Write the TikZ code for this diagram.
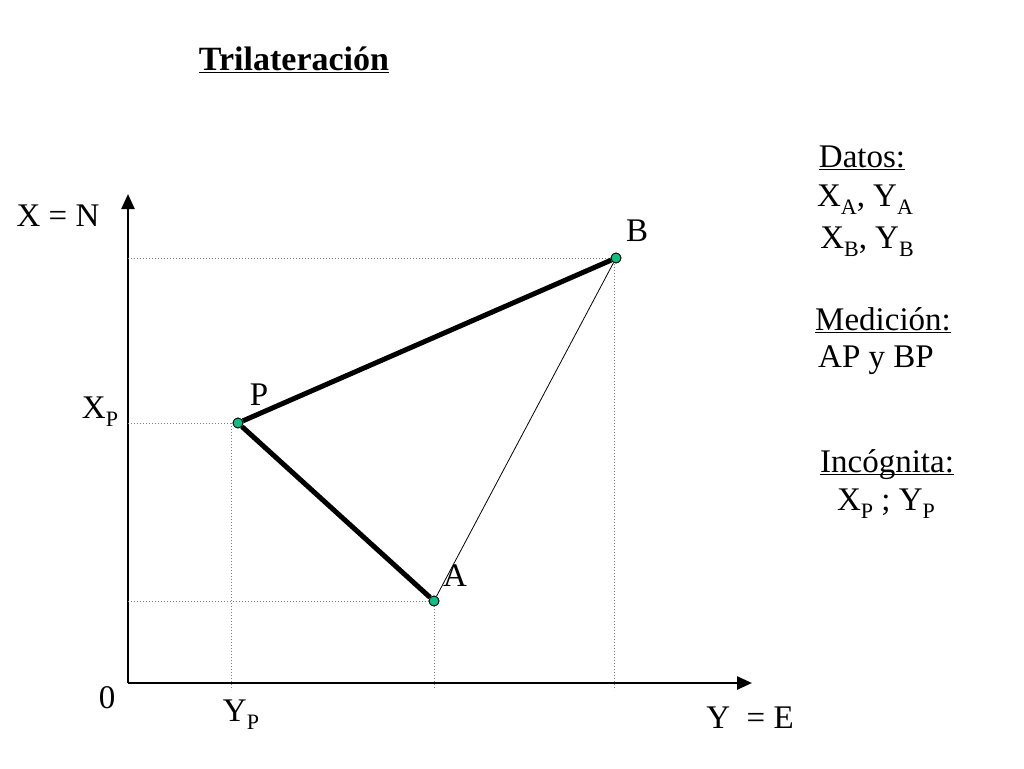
\documentclass[tikz,border=0pt]{standalone}
\usepackage{fontspec}
\setmainfont{Liberation Serif}
\usepackage{tikz}
\usetikzlibrary{arrows.meta, positioning}
\definecolor{ptgreen}{RGB}{16,190,130}
\newcommand{\idx}[1]{\raisebox{-0.25em}{\fontsize{22}{22}\selectfont #1}}
\newcommand{\ulined}[1]{\underline{\raisebox{0pt}[\height][0pt]{#1}}}
\tikzstyle{lbl} = [inner sep=0pt, font=\fontsize{33}{40}\selectfont]
\tikzstyle{pt} = [circle, draw=black, fill=ptgreen, line width=0.8pt, inner sep=0pt, minimum size=10pt]
\tikzstyle{axis} = [line width=2.5pt, -{Triangle[length=15pt,width=13pt]}]
\tikzstyle{side} = [line width=5pt]
\tikzstyle{guide} = [gray, line width=1pt, dotted]

\begin{document}
\begin{tikzpicture}[x=1pt, y=-1pt]
        \useasboundingbox (0,0) rectangle (1024,768);
        % title
        \node (title) [lbl, font=\fontsize{34}{40}\selectfont] at (294,60) {\textbf{\ulined{Trilateración}}};

        % axes
        \coordinate (O) at (128,683);
        \coordinate (Ntip) at (128,194);
        \coordinate (Etip) at (752,683);
        \draw [axis] (O) -- (Ntip);
        \draw [axis] (O) -- (Etip);
        \node (north) [lbl] at (58,216) {X = N};
        \node (east) [lbl] at (750,718) {Y \ = E};
        \node (zero) [lbl] at (107,698) {0};

        % points
        \node (P) [pt] at (238,423) {};
        \node (A) [pt] at (434,601) {};
        \node (B) [pt] at (616,258) {};
        \node (labP) [lbl] at (259,395) {P};
        \node (labA) [lbl] at (455,576) {A};
        \node (labB) [lbl] at (637,231) {B};

        % projections
        \coordinate (Pdown) at (231,690);
        \coordinate (Adown) at (434,690);
        \coordinate (Bdown) at (614,690);
        \draw [guide] (O |- B) -- (B);
        \draw [guide] (O |- P) -- (P);
        \draw [guide] (O |- A) -- (A);
        \draw [guide] (231,423) -- (Pdown);
        \draw [guide] (A) -- (Adown);
        \draw [guide] (614,258) -- (Bdown);
        \node (XP) [lbl] at (100,412) {X\idx{P}};
        \node (YP) [lbl] at (241,715) {Y\idx{P}};

        % sides
        \draw [line width=0.8pt] (A) -- (B);
        \draw [side] (P) -- (A);
        \draw [side] (P) -- (B);
        \node at (P) [pt] {};
        \node at (A) [pt] {};
        \node at (B) [pt] {};

        % data
        \node (datos) [lbl] at (862,158) {\ulined{Datos:}};
        \node (dataA) [lbl] at (865,200) {X\idx{A}, Y\idx{A}};
        \node (dataB) [lbl] at (867,242) {X\idx{B}, Y\idx{B}};
        \node (medicion) [lbl] at (883,320) {\ulined{Medición:}};
        \node (medidas) [lbl] at (876,360) {AP y BP};
        \node (incognita) [lbl] at (887,462) {\ulined{Incógnita:}};
        \node (incog) [lbl] at (886,504) {X\idx{P} ; Y\idx{P}};
\end{tikzpicture}
\end{document}
